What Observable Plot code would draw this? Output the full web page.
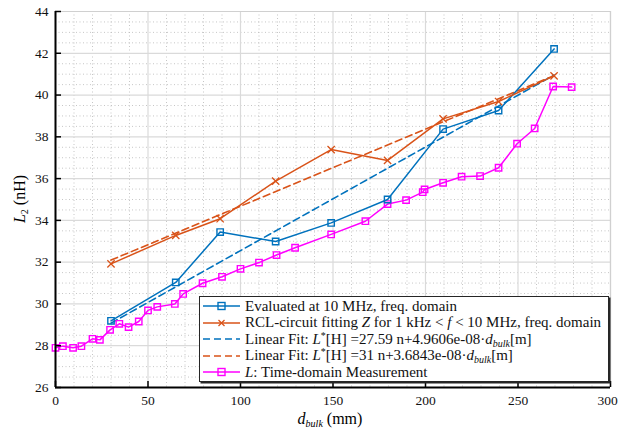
<!DOCTYPE html>
<html>
<head>
<meta charset="utf-8">
<script src="https://cdn.jsdelivr.net/npm/d3@7"></script>
<script src="https://cdn.jsdelivr.net/npm/@observablehq/plot@0.6"></script>
<style>
  html, body { margin: 0; padding: 0; background: #fff; }
  #wrap { position: relative; width: 619px; height: 435px; font-family: 'Liberation Serif', 'Times New Roman', 'DejaVu Serif', serif; }
  #wrap svg text { font-family: 'Liberation Serif', 'Times New Roman', 'DejaVu Serif', serif; }
  #legend { position: absolute; left: 199px; top: 296px; width: 408px; height: 84px; background: #fff;
    border: 1px solid #262626; box-shadow: 1.5px 1.5px 0 #262626; font-size: 15px; color: #111; }
  .row { position: absolute; left: 0; height: 16px; display: flex; align-items: center; white-space: nowrap; }
  .row svg { margin-left: 3px; margin-right: 4px; }
  sub { font-size: 10px; vertical-align: -3px; line-height: 0; }
  sup { font-size: 10px; vertical-align: 5px; line-height: 0; }
</style>
</head>
<body>
<div id="wrap"></div>
<script>
// ---- data ----
const evalX = [30, 65, 89, 119, 149, 179.5, 209.5, 239.5, 269.5];
const evalY = [29.19, 31.03, 33.44, 32.99, 33.88, 35.0, 38.37, 39.26, 42.21];
const rclX = [30, 65, 89, 119, 149, 179.5, 209.5, 239.5, 269.5];
const rclY = [31.92, 33.28, 34.08, 35.88, 37.39, 36.87, 38.86, 39.69, 40.92];
const fitEvalX = [30, 269.5];
const fitEvalY = [29.08, 40.96];
const fitRclX = [30, 269.5];
const fitRclY = [32.1, 40.93];
const timeX = [0, 4, 9.5, 14, 20, 24, 29.5, 34.5, 39.5, 45, 50, 55, 64.5, 69, 79.5, 90, 100, 110, 119.5, 129.5, 149, 167.5, 179.5, 189.5, 198.5, 199.5, 209.5, 219.5, 229.5, 239.5, 249.5, 259, 269, 279];
const timeY = [27.9, 27.98, 27.9, 27.98, 28.33, 28.28, 28.76, 29.05, 28.89, 29.16, 29.69, 29.86, 30.0, 30.48, 30.99, 31.3, 31.68, 31.98, 32.34, 32.69, 33.33, 33.96, 34.78, 34.97, 35.35, 35.48, 35.8, 36.09, 36.12, 36.52, 37.67, 38.4, 40.41, 40.38];
const xTicks = [0, 50, 100, 150, 200, 250, 300];
const yTicks = [26, 28, 30, 32, 34, 36, 38, 40, 42, 44];
const xMinor = d3.range(0, 301, 10).filter(v => v % 50 !== 0);
const yMinor = d3.range(26, 44.01, 0.5).filter(v => v % 2 !== 0);

const C_BLUE = "#0072BD", C_ORANGE = "#D95319", C_MAG = "#FF00FF";
const zip = (xs, ys) => xs.map((x, i) => ({x, y: ys[i]}));
const evalD = zip(evalX, evalY), rclD = zip(rclX, rclY), timeD = zip(timeX, timeY);
const fitE = zip(fitEvalX, fitEvalY), fitR = zip(fitRclX, fitRclY);

const W = 619, H = 435, mL = 55, mR = 9, mT = 11, mB = 48;
const plotW = W - mL - mR, plotH = H - mT - mB;
const FONT = "'Liberation Serif', 'Times New Roman', 'DejaVu Serif', serif";
const xLast = xTicks[xTicks.length - 1];

const chart = Plot.plot({
  width: W, height: H,
  marginLeft: mL, marginRight: mR, marginTop: mT, marginBottom: mB,
  x: {domain: [0, 300]},
  y: {domain: [26, 44]},
  style: {fontFamily: FONT, fontSize: "13.5px", background: "#fff", color: "#111", overflow: "visible"},
  marks: [
    // minor dotted grid
    Plot.ruleX(xMinor, {x: d => d, stroke: "#b8b8b8", strokeDasharray: "1,2.5", strokeWidth: 0.8}),
    Plot.ruleY(yMinor, {y: d => d, stroke: "#b8b8b8", strokeDasharray: "1,2.5", strokeWidth: 0.8}),
    // major grid
    Plot.ruleX(xTicks, {x: d => d, stroke: "#dadada", strokeWidth: 1.2}),
    Plot.ruleY(yTicks, {y: d => d, stroke: "#dadada", strokeWidth: 1.2}),
    // fits
    Plot.line(fitE, {x: "x", y: "y", stroke: C_BLUE, strokeWidth: 1.6, strokeDasharray: "7,4"}),
    Plot.line(fitR, {x: "x", y: "y", stroke: C_ORANGE, strokeWidth: 1.6, strokeDasharray: "7,4"}),
    // time-domain
    Plot.line(timeD, {x: "x", y: "y", stroke: C_MAG, strokeWidth: 1.5}),
    Plot.dot(timeD, {x: "x", y: "y", symbol: "square", r: 3.6, stroke: C_MAG, strokeWidth: 1.4, fill: "none"}),
    // evaluated
    Plot.line(evalD, {x: "x", y: "y", stroke: C_BLUE, strokeWidth: 1.5}),
    Plot.dot(evalD, {x: "x", y: "y", symbol: "square", r: 3.6, stroke: C_BLUE, strokeWidth: 1.4, fill: "none"}),
    // rcl
    Plot.line(rclD, {x: "x", y: "y", stroke: C_ORANGE, strokeWidth: 1.5}),
    Plot.dot(rclD, {x: "x", y: "y", symbol: "times", r: 3.4, stroke: C_ORANGE, strokeWidth: 1.3}),
    // box: top/right light, left/bottom black
    Plot.ruleY([44], {stroke: "#d0d0d0", strokeWidth: 1.2}),
    Plot.ruleX([300], {stroke: "#d0d0d0", strokeWidth: 1.2}),
    Plot.ruleX([0], {stroke: "#000", strokeWidth: 2}),
    Plot.ruleY([26], {stroke: "#000", strokeWidth: 2}),
    // inward ticks
    Plot.tickY(yTicks, {y: d => d, stroke: "#000", strokeWidth: 1.5, insetRight: plotW - 6}),
    Plot.tickX(xTicks, {x: d => d, stroke: "#000", strokeWidth: 1.5, insetTop: plotH - 6}),
    // tick labels
    Plot.axisY(yTicks, {tickSize: 0, tickPadding: 7, fontSize: 13.5, label: null}),
    Plot.axisX(xTicks.filter(v => v !== xLast), {tickSize: 0, tickPadding: 8, fontSize: 13.5, label: null}),
    Plot.axisX([xLast], {tickSize: 0, tickPadding: 8, fontSize: 13.5, label: null, dx: -3})
  ]
});

const wrap = document.getElementById("wrap");
chart.style.position = "absolute";
chart.style.left = "0px";
chart.style.top = "0px";
wrap.appendChild(chart);

// axis titles
const yl = document.createElement("div");
yl.innerHTML = '<i>L</i><sub>2</sub> (nH)';
yl.style.cssText = "position:absolute;left:20px;top:199px;font-size:16px;transform:translate(-50%,-50%) rotate(-90deg);white-space:nowrap;";
wrap.appendChild(yl);
const xl = document.createElement("div");
xl.innerHTML = '<i>d</i><sub><i>bulk</i></sub> (mm)';
xl.style.cssText = "position:absolute;left:330px;top:419px;font-size:16px;line-height:16px;transform:translate(-50%,-50%);white-space:nowrap;";
wrap.appendChild(xl);

// legend
const legendItems = [
  {color: C_BLUE, dash: null, marker: "square", html: "Evaluated at 10 MHz, freq. domain"},
  {color: C_ORANGE, dash: null, marker: "times", html: "RCL-circuit fitting <i>Z</i> for 1 kHz &lt; <i>f</i> &lt; 10 MHz, freq. domain"},
  {color: C_BLUE, dash: "7,4", marker: null, html: "Linear Fit: <i>L</i><sup>*</sup>[H] =27.59 n+4.9606e-08&middot;<i>d</i><sub><i>bulk</i></sub>[m]"},
  {color: C_ORANGE, dash: "7,4", marker: null, html: "Linear Fit: <i>L</i><sup>*</sup>[H] =31 n+3.6843e-08&middot;<i>d</i><sub><i>bulk</i></sub>[m]"},
  {color: C_MAG, dash: null, marker: "square", html: "<i>L</i>: Time-domain Measurement"}
];
const lg = document.createElement("div");
lg.id = "legend";
legendItems.forEach((it, i) => {
  const row = document.createElement("div");
  row.className = "row";
  row.style.top = (1 + i * 16.5) + "px";
  let mk = "";
  if (it.marker === "square") mk = `<rect x="15" y="4.5" width="7" height="7" fill="none" stroke="${it.color}" stroke-width="1.4"/>`;
  if (it.marker === "times") mk = `<path d="M15.5,5L21.5,11M21.5,5L15.5,11" stroke="${it.color}" stroke-width="1.3"/>`;
  row.innerHTML = `<svg width="38" height="16"><line x1="0" y1="8" x2="37" y2="8" stroke="${it.color}" stroke-width="1.6" ${it.dash ? `stroke-dasharray="${it.dash}"` : ""}/>${mk}</svg><span>${it.html}</span>`;
  lg.appendChild(row);
});
wrap.appendChild(lg);
</script>
</body>
</html>
